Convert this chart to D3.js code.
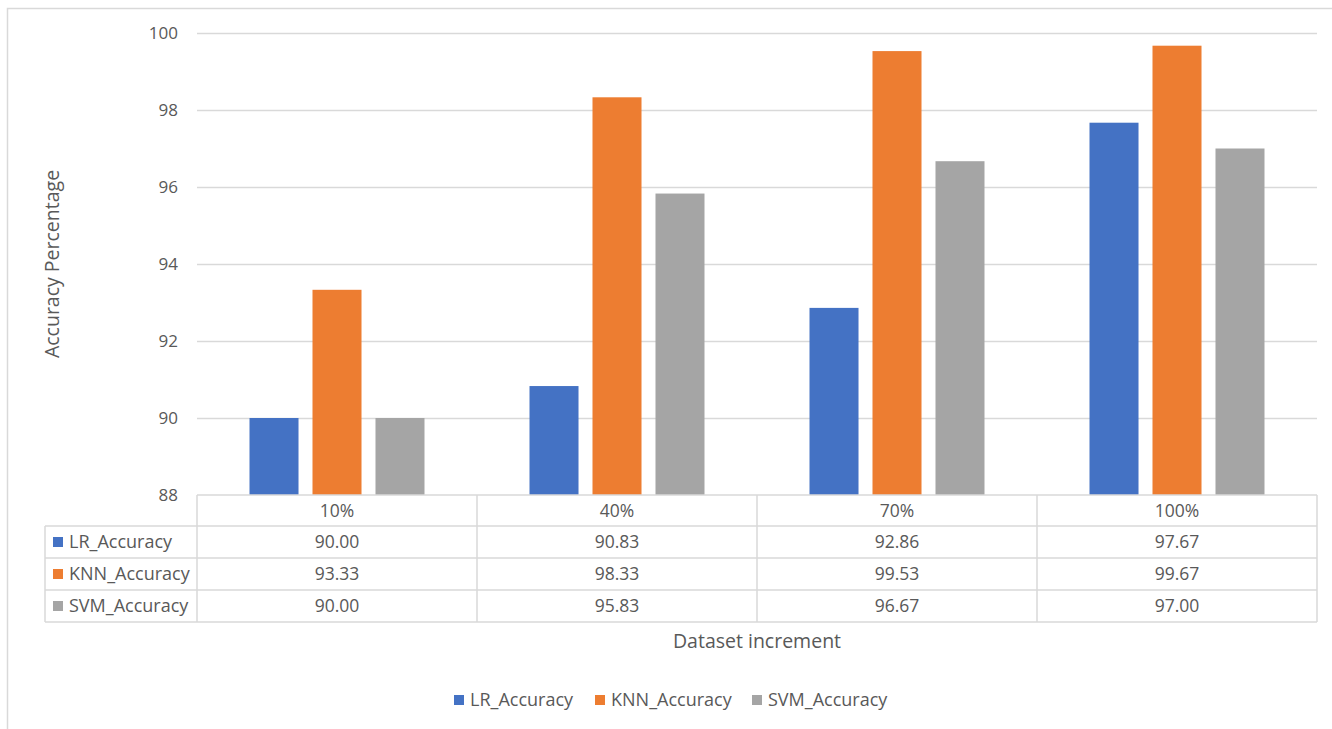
<!DOCTYPE html>
<html>
<head>
<meta charset="utf-8">
<script src="https://cdn.jsdelivr.net/npm/d3@7"></script>
<style>
  html, body { margin: 0; padding: 0; background: #fff; }
  svg { display: block; font-family: "Open Sans", "Noto Sans", sans-serif; }
</style>
</head>
<body>
<svg id="chart" width="1332" height="729"></svg>
<script>
// Dataset increments and accuracy per model
const categories = ["10%", "40%", "70%", "100%"];
const seriesNames = ["LR_Accuracy", "KNN_Accuracy", "SVM_Accuracy"];
const lrAccuracy  = [90.00, 90.83, 92.86, 97.67];
const knnAccuracy = [93.33, 98.33, 99.53, 99.67];
const svmAccuracy = [90.00, 95.83, 96.67, 97.00];
const yTicks = [88, 90, 92, 94, 96, 98, 100];
const seriesColors = ["#4472C4", "#ED7D31", "#A5A5A5"];

const seriesValues = [lrAccuracy, knnAccuracy, svmAccuracy];

const svg = d3.select("#chart");
const textColor = "#595959";
const gridColor = "#D9D9D9";

// outer chart frame
svg.append("rect")
  .attr("x", 7.5).attr("y", 8.5)
  .attr("width", 1400).attr("height", 800)
  .attr("fill", "none").attr("stroke", "#D9D9D9").attr("stroke-width", 1.5);

const plot = { left: 197, right: 1317, top: 33, bottom: 495 };

const x = d3.scaleBand().domain(categories).range([plot.left, plot.right]).padding(0);
const xs = d3.scaleBand().domain(seriesNames)
  .range([x.bandwidth() / 2 - 87.5, x.bandwidth() / 2 + 87.5])
  .paddingInner(0.222).paddingOuter(0);
const y = d3.scaleLinear().domain([88, 100]).range([plot.bottom, plot.top]);

// gridlines and y-axis labels
const yAxis = d3.axisLeft(y).tickValues(yTicks).tickSize(0).tickPadding(19);
const yg = svg.append("g").attr("transform", `translate(${plot.left},0)`).call(yAxis);
yg.select(".domain").remove();
yg.selectAll("text").attr("fill", textColor).style("font-size", "17px")
  .style("font-family", '"Open Sans", sans-serif');

svg.append("g").selectAll("line")
  .data(yTicks.filter(t => t > 88))
  .join("line")
  .attr("x1", plot.left).attr("x2", plot.right)
  .attr("y1", d => y(d) + 0.5).attr("y2", d => y(d) + 0.5)
  .attr("stroke", gridColor).attr("stroke-width", 1.3);

// bars
const groups = svg.append("g").selectAll("g")
  .data(categories)
  .join("g")
  .attr("transform", d => `translate(${x(d)},0)`);

groups.selectAll("rect")
  .data((c, i) => seriesNames.map((s, k) => ({ s, k, v: seriesValues[k][i] })))
  .join("rect")
  .attr("x", d => xs(d.s))
  .attr("width", xs.bandwidth())
  .attr("y", d => y(d.v))
  .attr("height", d => y(88) - y(d.v))
  .attr("fill", d => seriesColors[d.k]);

// data table below the plot
const rowH = 32;
const tableTop = plot.bottom;
const labelLeft = 45;
const table = svg.append("g");
const lineStyle = sel => sel.attr("stroke", gridColor).attr("stroke-width", 1.5).attr("fill", "none");

// horizontal rules
[0, 1, 2, 3, 4].forEach(r => {
  const yy = tableTop + r * rowH - (r > 0 ? 1 : 0);
  table.append("line")
    .attr("x1", r === 0 ? plot.left : labelLeft).attr("x2", plot.right)
    .attr("y1", yy).attr("y2", yy)
    .call(lineStyle);
});
// vertical rules
table.append("line").attr("x1", labelLeft).attr("x2", labelLeft)
  .attr("y1", tableTop + rowH - 1).attr("y2", tableTop + 4 * rowH - 1).call(lineStyle);
categories.concat([null]).forEach(c => {
  const xx = c === null ? plot.right : x(c);
  table.append("line").attr("x1", xx).attr("x2", xx)
    .attr("y1", tableTop).attr("y2", tableTop + 4 * rowH - 1).call(lineStyle);
});

const cellFont = "17.5px";
const keyFont = "18px";

// header row: category labels
table.selectAll("text.cat")
  .data(categories)
  .join("text")
  .attr("class", "cat")
  .attr("x", d => x(d) + x.bandwidth() / 2)
  .attr("y", tableTop + rowH / 2)
  .attr("dy", "0.35em")
  .attr("text-anchor", "middle")
  .attr("fill", textColor).style("font-size", cellFont)
  .text(d => d);

// value rows with series keys
seriesNames.forEach((s, k) => {
  const cy = tableTop + rowH * (k + 1) + rowH / 2 - 1;
  table.append("rect")
    .attr("x", 53).attr("y", cy - 5).attr("width", 10).attr("height", 10)
    .attr("fill", seriesColors[k]);
  table.append("text")
    .attr("x", 69).attr("y", cy).attr("dy", "0.35em")
    .attr("fill", textColor).style("font-size", keyFont)
    .text(s);
  table.selectAll(null)
    .data(seriesValues[k])
    .join("text")
    .attr("x", (d, i) => x(categories[i]) + x.bandwidth() / 2)
    .attr("y", cy).attr("dy", "0.35em")
    .attr("text-anchor", "middle")
    .attr("fill", textColor).style("font-size", cellFont)
    .text(d => d3.format(".2f")(d));
});

// axis titles
svg.append("text")
  .attr("transform", "translate(52,264) rotate(-90)")
  .attr("dy", "0.35em")
  .attr("text-anchor", "middle")
  .attr("fill", textColor).style("font-size", "19.5px")
  .text("Accuracy Percentage");

svg.append("text")
  .attr("x", (plot.left + plot.right) / 2).attr("y", 641)
  .attr("dy", "0.35em")
  .attr("text-anchor", "middle")
  .attr("fill", textColor).style("font-size", "19.5px")
  .text("Dataset increment");

// legend
const legendX = [454, 595, 752];
const legend = svg.append("g").selectAll("g")
  .data(seriesNames)
  .join("g")
  .attr("transform", (d, i) => `translate(${legendX[i]},700)`);
legend.append("rect").attr("x", 0).attr("y", -5).attr("width", 10).attr("height", 10)
  .attr("fill", (d, i) => seriesColors[i]);
legend.append("text").attr("x", 16).attr("dy", "0.35em")
  .attr("fill", textColor).style("font-size", keyFont)
  .text(d => d);
</script>
</body>
</html>
